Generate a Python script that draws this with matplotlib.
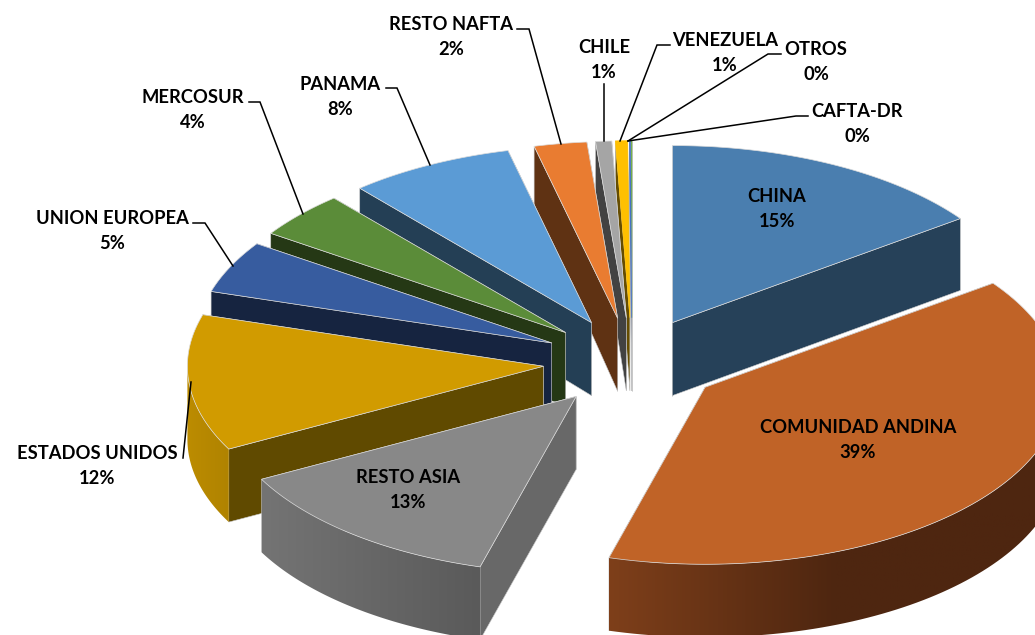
import matplotlib
matplotlib.use("Agg")
import matplotlib.pyplot as plt
import numpy as np
from matplotlib.colors import LinearSegmentedColormap
from matplotlib.patches import Polygon

names = ["CHINA", "COMUNIDAD ANDINA", "RESTO ASIA", "ESTADOS UNIDOS", "UNION EUROPEA", "MERCOSUR",
         "PANAMA", "RESTO NAFTA", "CHILE", "VENEZUELA", "OTROS", "CAFTA-DR"]
shares = [15.0, 39.35, 12.9, 12.45, 4.77, 4.25, 7.51, 2.39, 0.73, 0.55, 0.05, 0.05]

top_colors = ["#4A7EAF", "#C06327", "#888888", "#D19B00", "#375C9F", "#5B8C39",
              "#5B9BD5", "#E97C31", "#A5A5A5", "#FFC000", "#4472C4", "#70AD47"]
wall_colors = ["#264159", "#4E2610", "#686868", "#604A00", "#162440", "#253815",
               "#243F55", "#5F3213", "#424242", "#664D00", "#223962", "#385723"]
rim_colors = {1: ["#7E3F1A", "#4E2610", "#4E2610"], 2: ["#747474", "#5A5A5A"], 3: ["#BC8C00", "#B08300"]}

label_x = [777, 858, 408, 97, 112, 193, 340, 451, 604, 725, 816, 857]
label_y = [209, 440, 490, 466, 231, 110, 97, 37, 60, 53, 62, 124]
leaders = {
    3: [(183, 458), (191, 382)],
    4: [(193, 223), (205, 223), (233, 266)],
    5: [(249, 102), (260, 102), (303, 214)],
    6: [(386, 88), (397, 88), (430, 165)],
    7: [(517, 29), (529, 29), (561, 144)],
    8: [(604, 84), (604, 141)],
    9: [(670, 45), (657, 45), (620, 141)],
    10: [(781, 54), (768, 54), (628, 141)],
    11: [(808, 116), (796, 116), (628, 141)],
}

# pie geometry in pixels
cx, cy = 632, 362
rx, ry = 356, 177
explode = 0.25
draw_order = [11, 10, 9, 8, 7, 6, 5, 4, 3, 0, 1, 2]


def rim(theta, ox, oy):
    return ox + rx * np.sin(theta), oy - ry * np.cos(theta)


def depth(y):
    # back of the pie is a little thinner, Excel perspective
    return np.interp(y, [140, 225], [58, 73])


def wall_poly(xs, ys):
    xs, ys = np.asarray(xs), np.asarray(ys)
    return np.column_stack([np.r_[xs, xs[::-1]], np.r_[ys, (ys + depth(ys))[::-1]]])


fig = plt.figure(figsize=(10.35, 6.35), dpi=100)
ax = fig.add_axes([0, 0, 1, 1])

edges = np.radians(np.r_[0, np.cumsum(shares)] / sum(shares) * 360)

for i in draw_order:
    t0, t1 = edges[i], edges[i + 1]
    mid = (t0 + t1) / 2
    ox, oy = rim(mid, cx, cy)
    ox = cx + explode * (ox - cx)
    oy = cy + explode * (oy - cy)

    # cut faces
    for t in (t1, t0) if i >= 2 else (t0, t1):
        ex, ey = rim(t, ox, oy)
        ax.add_patch(Polygon(wall_poly([ox, ex], [oy, ey]), fc=wall_colors[i], ec="#c8c8c8", lw=0.4, zorder=2))

    # outer wall, only the part facing the viewer
    lo, hi = max(t0, np.pi / 2), min(t1, 3 * np.pi / 2)
    if hi > lo:
        tt = np.linspace(lo, hi, 80)
        rx_pts, ry_pts = rim(tt, ox, oy)
        poly = Polygon(wall_poly(rx_pts, ry_pts), fc="none", ec="none", zorder=2)
        ax.add_patch(poly)
        xmin, xmax = rx_pts.min(), rx_pts.max()
        ymin, ymax = ry_pts.min(), ry_pts.max() + 80
        cmap = LinearSegmentedColormap.from_list("wall", rim_colors[i])
        grad = np.linspace(0, 1, 256)[None, :]
        im = ax.imshow(grad, extent=(xmin, xmax, ymax, ymin), cmap=cmap, aspect="auto", zorder=2)
        im.set_clip_path(poly)

    # top face
    tt = np.linspace(t0, t1, 120)
    tx, ty = rim(tt, ox, oy)
    edge = top_colors[i] if i >= 9 else "#dcdcdc"
    ax.add_patch(Polygon(np.column_stack([np.r_[ox, tx], np.r_[oy, ty]]), fc=top_colors[i], ec=edge, lw=0.5, zorder=2))

for i, pts in leaders.items():
    xs, ys = zip(*pts)
    ax.plot(xs, ys, color="black", lw=1.1, zorder=4, solid_joinstyle="miter")

for i, name in enumerate(names):
    ax.text(label_x[i], label_y[i], f"{name}\n{shares[i]:.0f}%", ha="center", va="center", family="Lato",
            fontweight="bold", fontsize=13.2, linespacing=1.62, color="black", zorder=5)

ax.set_xlim(0, 1035)
ax.set_ylim(635, 0)
ax.axis("off")
fig.savefig("out.png", dpi=100, facecolor="white")
